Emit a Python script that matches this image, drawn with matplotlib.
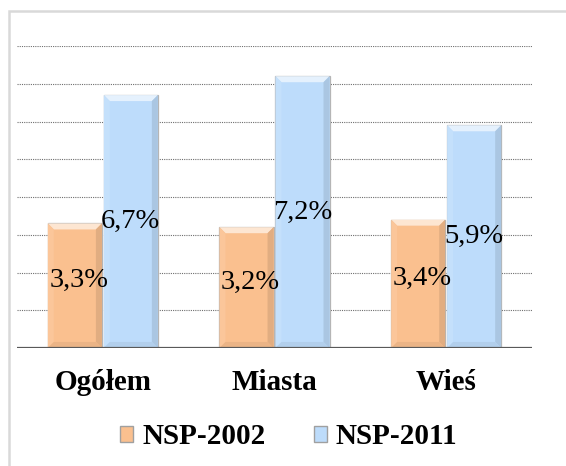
import matplotlib
matplotlib.use('Agg')
import matplotlib.pyplot as plt
from matplotlib.patches import Polygon, Rectangle, Patch
import numpy as np

categories = ['Ogółem', 'Miasta', 'Wieś']
nsp_2002 = [3.3, 3.2, 3.4]
nsp_2011 = [6.7, 7.2, 5.9]
series_names = ['NSP-2002', 'NSP-2011']
value_labels_2002 = ['3,3%', '3,2%', '3,4%']
value_labels_2011 = ['6,7%', '7,2%', '5,9%']

orange = '#FAC08F'
blue = '#BDDCFB'
serif = ['Liberation Serif', 'DejaVu Serif']

fig = plt.figure(figsize=(5.66, 4.66), dpi=100)
ax = fig.add_axes([17 / 566, 1 - 348 / 466, 515 / 566, 302 / 466])

# outer chart border (right/bottom lie outside the picture)
fig.patches.append(Rectangle((9 / 566, -0.1), 1.2, 1 - 11 / 466 + 0.1,
                             transform=fig.transFigure, fill=False,
                             edgecolor='#d9d9d9', linewidth=1.8))

x = np.arange(len(categories))
w = 0.315
ax.set_xlim(-0.5, 2.5)
ax.set_ylim(0, 8)

for gy in range(1, 9):
    ax.axhline(gy, color='#6f6f6f', linestyle=(0, (1, 1)), linewidth=0.8, zorder=0)

b1 = ax.bar(x - 0.163, nsp_2002, width=w, color=orange, edgecolor='#b5b5b5',
            linewidth=0.9, zorder=2)
b2 = ax.bar(x + 0.163, nsp_2011, width=w, color=blue, edgecolor='#b5b5b5',
            linewidth=0.9, zorder=2)


def bevel(bar, base):
    # Excel-like bevel: light top, slightly darker right/bottom
    x0, y0 = bar.get_x(), bar.get_y()
    x1, y1 = x0 + bar.get_width(), y0 + bar.get_height()
    dx = 6 / 171.7
    dy = 6 / 37.7
    base = np.array(matplotlib.colors.to_rgb(base))
    light = base + (1 - base) * 0.6
    light2 = base + (1 - base) * 0.1
    dark = base * 0.9
    dark2 = base * 0.94
    polys = [
        ([(x0, y1), (x1, y1), (x1 - dx, y1 - dy), (x0 + dx, y1 - dy)], light),
        ([(x0, y0), (x0, y1), (x0 + dx, y1 - dy), (x0 + dx, y0 + dy)], light2),
        ([(x1, y0), (x1, y1), (x1 - dx, y1 - dy), (x1 - dx, y0 + dy)], dark),
        ([(x0, y0), (x1, y0), (x1 - dx, y0 + dy), (x0 + dx, y0 + dy)], dark2),
    ]
    for pts, c in polys:
        ax.add_patch(Polygon(pts, closed=True, facecolor=c, edgecolor='none', zorder=3))


for bar in b1:
    bevel(bar, orange)
for bar in b2:
    bevel(bar, blue)

for i in range(len(categories)):
    ax.text(x[i] - 0.14, nsp_2002[i] / 2 + 0.15, value_labels_2002[i],
            ha='center', va='center', fontsize=20.5, family=serif, zorder=5)
    ax.text(x[i] + 0.163, nsp_2011[i] / 2, value_labels_2011[i],
            ha='center', va='center', fontsize=20.5, family=serif, zorder=5)

ax.axhline(0, color='#595959', linewidth=1.6, zorder=4)

ax.set_xticks(x)
ax.set_xticklabels(categories, fontsize=21, fontweight='bold', family=serif)
ax.tick_params(axis='x', length=0, pad=15)
ax.set_yticks([])
for s in ax.spines.values():
    s.set_visible(False)

handles = [Patch(facecolor=orange, edgecolor='#a0a0a0'),
           Patch(facecolor=blue, edgecolor='#a0a0a0')]
fig.legend(handles, series_names, loc='center', bbox_to_anchor=(0.51, 1 - 437 / 466),
           ncol=2, frameon=False, handlelength=0.45, handleheight=0.45,
           handletextpad=0.3, columnspacing=1.65,
           prop={'family': serif, 'weight': 'bold', 'size': 21})

fig.savefig('out.png', dpi=100)
